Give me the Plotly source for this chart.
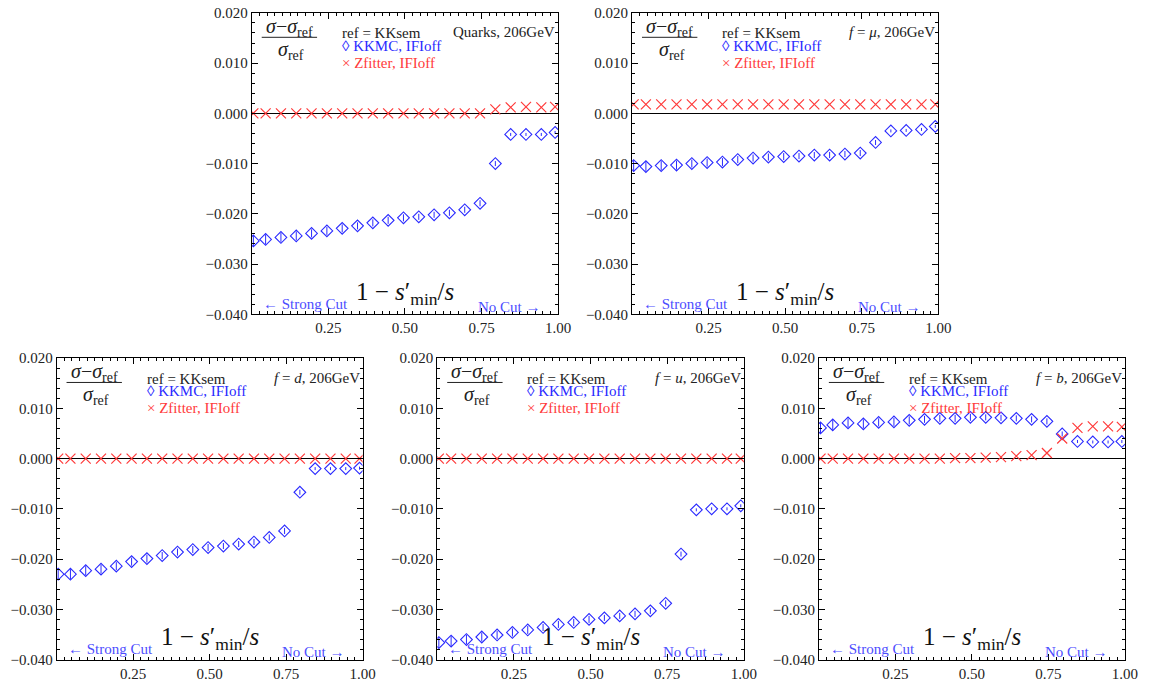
import plotly.graph_objects as go

W, H = 1156, 694

x_cut = [0.005, 0.045, 0.095, 0.145, 0.195, 0.245, 0.295, 0.345, 0.395, 0.445, 0.495,
         0.545, 0.595, 0.645, 0.695, 0.745, 0.795, 0.845, 0.895, 0.945, 0.99]

kkmc_quarks = [-0.0254, -0.0251, -0.0247, -0.0244, -0.0239, -0.0234, -0.0229, -0.0224, -0.0218, -0.0213, -0.0208,
               -0.0206, -0.0202, -0.0198, -0.0192, -0.0179, -0.0100, -0.0042, -0.0042, -0.0042, -0.0038]
zfit_quarks = [0.0, 0.0, 0.0, 0.0, 0.0, 0.0, 0.0, 0.0, 0.0, 0.0, 0.0,
               0.0, 0.0, 0.0, 0.0, 0.0, 0.0008, 0.0012, 0.0013, 0.0012, 0.0013]

kkmc_mu = [-0.0104, -0.0106, -0.0104, -0.0103, -0.0100, -0.0098, -0.0097, -0.0092, -0.0089, -0.0087, -0.0086,
           -0.0085, -0.0083, -0.0083, -0.0081, -0.0079, -0.0058, -0.0035, -0.0034, -0.0032, -0.0026]
zfit_mu = [0.0018, 0.0018, 0.0018, 0.0018, 0.0018, 0.0018, 0.0018, 0.0018, 0.0018, 0.0018, 0.0018,
           0.0018, 0.0018, 0.0018, 0.0018, 0.0018, 0.0018, 0.0018, 0.0018, 0.0018, 0.0018]

kkmc_d = [-0.0230, -0.0230, -0.0223, -0.0220, -0.0214, -0.0205, -0.0199, -0.0193, -0.0186, -0.0181, -0.0177,
          -0.0174, -0.0170, -0.0166, -0.0157, -0.0144, -0.0067, -0.0020, -0.0020, -0.0020, -0.0019]
zfit_d = [0.0, 0.0, 0.0, 0.0, 0.0, 0.0, 0.0, 0.0, 0.0, 0.0, 0.0,
          0.0, 0.0, 0.0, 0.0, 0.0, 0.0, 0.0, 0.0, 0.0, 0.0]

kkmc_u = [-0.0366, -0.0363, -0.0360, -0.0355, -0.0351, -0.0346, -0.0341, -0.0336, -0.0330, -0.0326, -0.0320,
          -0.0317, -0.0313, -0.0309, -0.0303, -0.0288, -0.0190, -0.0102, -0.0100, -0.0100, -0.0094]
zfit_u = [0.0, 0.0, 0.0, 0.0, 0.0, 0.0, 0.0, 0.0, 0.0, 0.0, 0.0,
          0.0, 0.0, 0.0, 0.0, 0.0, 0.0, 0.0, 0.0, 0.0, 0.0]

kkmc_b = [0.0061, 0.0067, 0.0071, 0.0069, 0.0072, 0.0073, 0.0076, 0.0078, 0.0080, 0.0080, 0.0082,
          0.0082, 0.0081, 0.0080, 0.0078, 0.0074, 0.0049, 0.0034, 0.0033, 0.0033, 0.0034]
zfit_b = [0.0, 0.0, 0.0, 0.0, 0.0, 0.0, 0.0, 0.0, 0.0, 0.0001, 0.0001,
          0.0002, 0.0003, 0.0005, 0.0007, 0.0011, 0.0040, 0.0061, 0.0064, 0.0064, 0.0063]

kkmc_err = [0.0011, 0.0010, 0.0009, 0.0009, 0.0008, 0.0008, 0.0008, 0.0007, 0.0007, 0.0007, 0.0007,
            0.0006, 0.0006, 0.0006, 0.0006, 0.0006, 0.0005, 0.0003, 0.0003, 0.0003, 0.0003]

panel_labels = ["Quarks, 206GeV",
                "<i>f</i> = <i>μ</i>, 206GeV",
                "<i>f</i> = <i>d</i>, 206GeV",
                "<i>f</i> = <i>u</i>, 206GeV",
                "<i>f</i> = <i>b</i>, 206GeV"]
kkmc_series = [kkmc_quarks, kkmc_mu, kkmc_d, kkmc_u, kkmc_b]
zfit_series = [zfit_quarks, zfit_mu, zfit_d, zfit_u, zfit_b]

y_ticks = [-0.04, -0.03, -0.02, -0.01, 0.0, 0.01, 0.02]
x_ticks = [0.25, 0.5, 0.75, 1.0]
x_ticktext = ["0.25", "0.50", "0.75", "1.00"]

# panel pixel boxes: (left, right, top, bottom)
boxes = [(254.7, 564.5, 5.0, 313.5),
         (639.3, 949.0, 5.0, 313.5),
         (57.3, 366.7, 358.3, 667.0),
         (442.3, 752.3, 358.3, 667.0),
         (828.3, 1137.7, 358.3, 667.0)]

BLUE = "#2a2aff"
RED = "#ff3a3a"
LBLUE = "#4d4dff"
SERIF = "Liberation Serif"

fig = go.Figure()
annotations = []
shapes = []

for i in range(5):
    n = i + 1
    xa = "x" if n == 1 else f"x{n}"
    ya = "y" if n == 1 else f"y{n}"
    l, r, t, b = boxes[i]
    fig.add_trace(go.Scatter(
        x=x_cut, y=kkmc_series[i], mode="markers", xaxis=xa, yaxis=ya,
        marker=dict(symbol="diamond-open", size=9, color=BLUE, line=dict(width=1.1, color=BLUE)),
        error_y=dict(type="data", array=kkmc_err, color=BLUE, thickness=1, width=0),
        showlegend=False, hoverinfo="x+y"))
    fig.add_trace(go.Scatter(
        x=x_cut, y=zfit_series[i], mode="markers", xaxis=xa, yaxis=ya,
        marker=dict(symbol="x-thin-open", size=10, color=RED, line=dict(width=1.2, color=RED)),
        showlegend=False, hoverinfo="x+y"))

    axis_common = dict(showline=True, linecolor="black", linewidth=1, mirror="ticks",
                       ticks="inside", tickcolor="black", ticklen=6, tickwidth=1,
                       showgrid=False, zeroline=False,
                       tickfont=dict(family=SERIF, size=15, color="#222222"))
    xaxis = dict(axis_common, domain=[l / W, r / W], range=[0, 1], anchor=ya,
                 tickmode="array", tickvals=x_ticks, ticktext=x_ticktext,
                 minor=dict(ticks="inside", ticklen=3, tickcolor="black", dtick=0.025, tick0=0))
    yaxis = dict(axis_common, domain=[1 - b / H, 1 - t / H], range=[-0.04, 0.02], anchor=xa,
                 tickmode="array", tickvals=y_ticks, tickformat=".3f",
                 zeroline=True, zerolinecolor="black", zerolinewidth=1,
                 minor=dict(ticks="inside", ticklen=3, tickcolor="black", dtick=0.002, tick0=0))
    fig.update_layout(**{("xaxis" if n == 1 else f"xaxis{n}"): xaxis,
                         ("yaxis" if n == 1 else f"yaxis{n}"): yaxis})

    xd = f"{xa} domain"
    yd = f"{ya} domain"
    ph = b - t
    pw = r - l

    def fy(off):
        return 1 - off / ph

    def fx(off):
        return off / pw

    annotations += [
        dict(text="<i>σ</i>−<i>σ</i><sub>ref</sub>", xref=xd, yref=yd, x=fx(38), y=fy(15),
             xanchor="center", yanchor="middle", showarrow=False,
             font=dict(family=SERIF, size=20, color="#222222")),
        dict(text="<i>σ</i><sub>ref</sub>", xref=xd, yref=yd, x=fx(40), y=fy(38),
             xanchor="center", yanchor="middle", showarrow=False,
             font=dict(family=SERIF, size=20, color="#222222")),
        dict(text="ref = KKsem", xref=xd, yref=yd, x=fx(89), y=fy(21),
             xanchor="left", yanchor="middle", showarrow=False,
             font=dict(family=SERIF, size=15, color="#222222")),
        dict(text="◊ KKMC, IFIoff", xref=xd, yref=yd, x=fx(89), y=fy(34),
             xanchor="left", yanchor="middle", showarrow=False,
             font=dict(family=SERIF, size=15, color=BLUE)),
        dict(text="× Zfitter, IFIoff", xref=xd, yref=yd, x=fx(89), y=fy(51),
             xanchor="left", yanchor="middle", showarrow=False,
             font=dict(family=SERIF, size=15, color=RED)),
        dict(text=panel_labels[i], xref=xd, yref=yd, x=fx(pw - 1), y=fy(20),
             xanchor="right", yanchor="middle", showarrow=False,
             font=dict(family=SERIF, size=15, color="#222222")),
        dict(text="1 − <i>s</i>′<sub>min</sub>/<i>s</i>", xref=xd, yref=yd, x=0.5, y=fy(287),
             xanchor="center", yanchor="middle", showarrow=False,
             font=dict(family=SERIF, size=25, color="#111111")),
        dict(text="← Strong Cut", xref=xd, yref=yd, x=fx(9), y=fy(298),
             xanchor="left", yanchor="middle", showarrow=False,
             font=dict(family=SERIF, size=15, color=LBLUE)),
        dict(text="No Cut →", xref=xd, yref=yd, x=fx(294), y=fy(301),
             xanchor="right", yanchor="middle", showarrow=False,
             font=dict(family=SERIF, size=15, color=LBLUE)),
    ]
    shapes.append(dict(type="line", xref=xd, yref=yd, x0=fx(10), x1=fx(66), y0=fy(25), y1=fy(25),
                       line=dict(color="#222222", width=1)))

fig.update_layout(width=W, height=H, margin=dict(l=0, r=0, t=0, b=0),
                  paper_bgcolor="white", plot_bgcolor="white",
                  annotations=annotations, shapes=shapes, showlegend=False)

fig.write_html("out.html")
